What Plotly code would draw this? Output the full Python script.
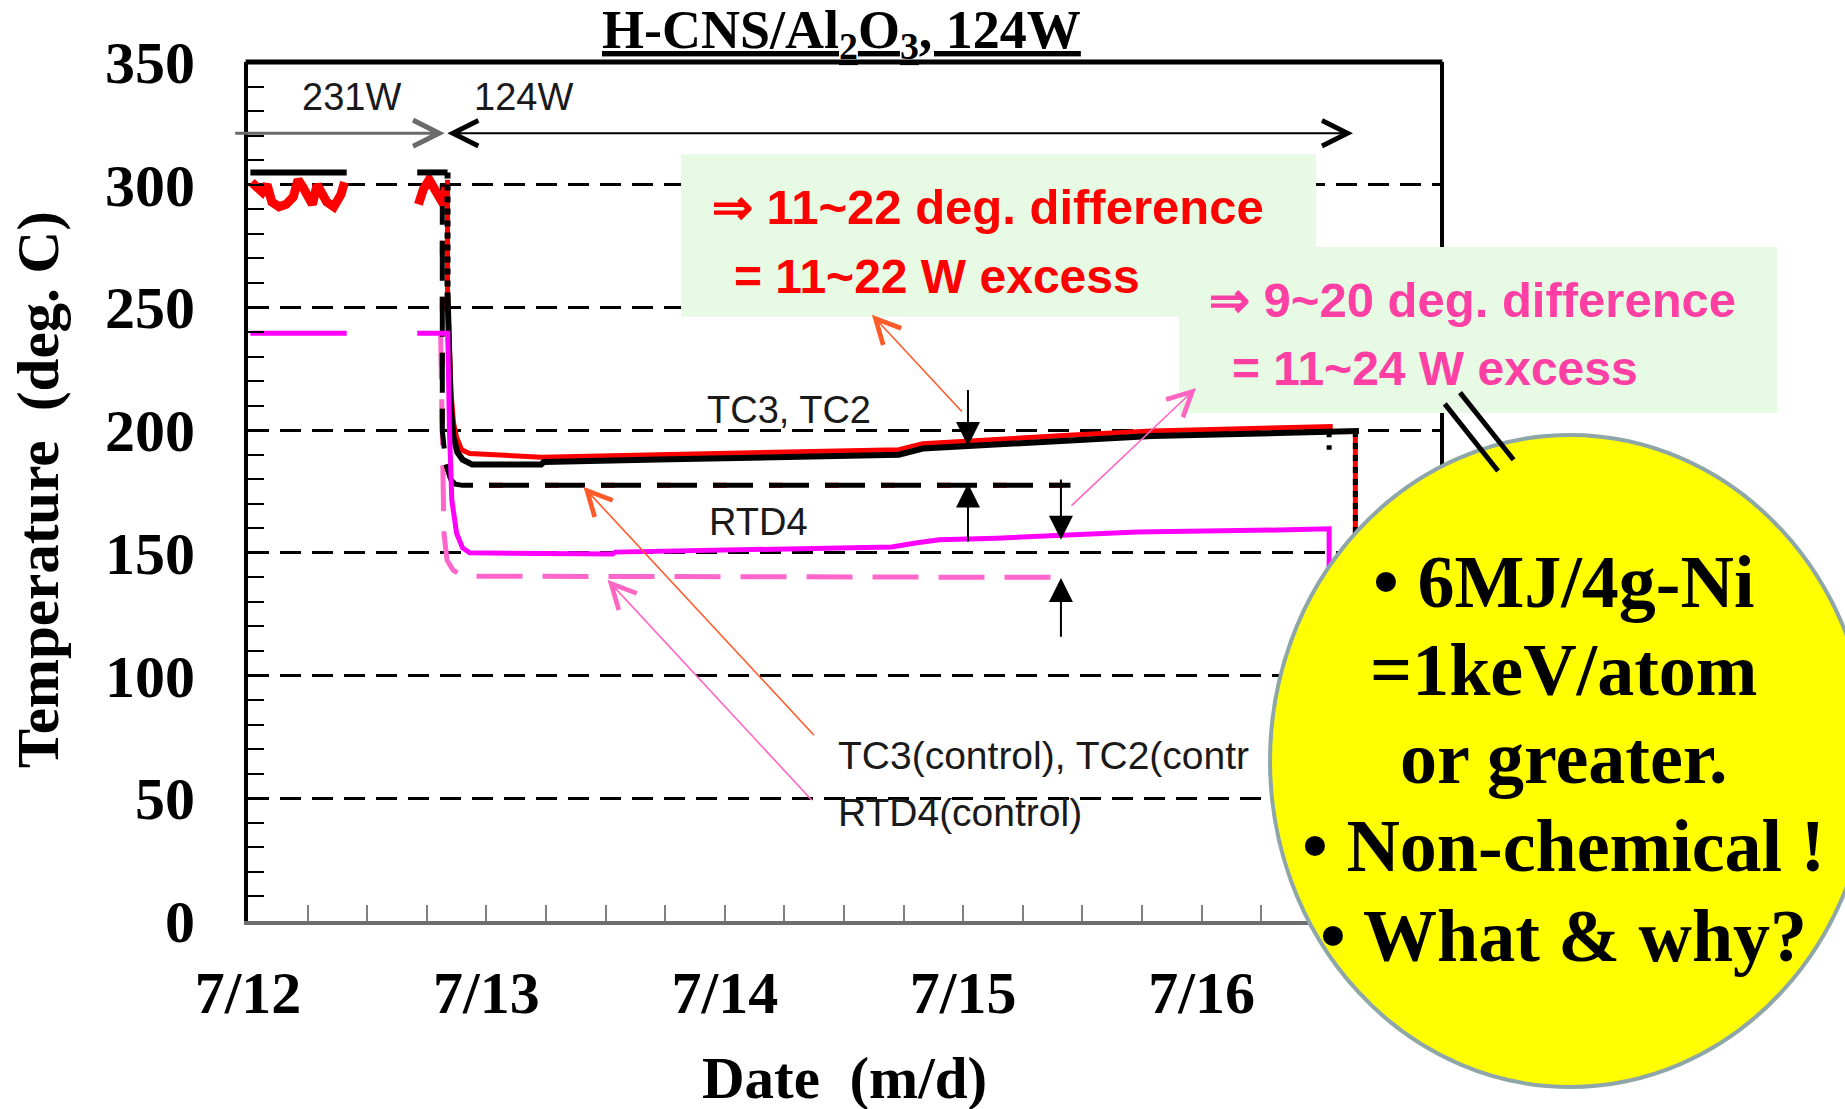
import plotly.graph_objects as go

# ---------------- data (x = days since 7/12 00:00, y = deg. C) ----------------
day_ticks = [0, 1, 2, 3, 4]
day_labels = ["7/12", "7/13", "7/14", "7/15", "7/16"]
temp_ticks = [0, 50, 100, 150, 200, 250, 300, 350]

# TC3, TC2 (black)
tc_black_x = [0.01, 0.414, None, 0.71, 0.837, None, 0.837, 0.85, 0.862, 0.878, 0.90, 0.94, 1.23, 1.24,
              1.72, 2.20, 2.73, 2.83, 3.00, 3.46, 3.79, 4.32, 4.55, 4.66]
tc_black_y = [305, 305, None, 305, 305, None, 256, 210, 197, 191, 188, 186, 186, 187,
              188, 189, 190, 192.5, 193.5, 196, 197.6, 198.8, 199.5, 199.7]
# TC3, TC2 (red) during 231 W (scattered readings)
tc_red231_x = [0.015, 0.04, 0.06, 0.08, 0.10, 0.13, 0.16, 0.19, 0.21, 0.23, 0.25, 0.27, 0.29, 0.31,
               0.33, 0.36, 0.39, 0.405, None, 0.715, 0.735, 0.76, 0.78, 0.80, 0.82, 0.83]
tc_red231_y = [301, 299, 297, 300, 293, 291, 292, 295, 302, 299, 296, 292, 300, 297,
               293, 291, 296, 301, None, 292, 298, 302, 298, 296, 292, 299]
# TC3, TC2 (red) during 124 W
tc_red_x = [0.837, 0.837, 0.852, 0.862, 0.875, 0.896, 0.93, 1.23, 1.72,
            2.20, 2.73, 2.83, 3.00, 3.46, 3.79, 4.32, 4.55]
tc_red_y = [302, 256, 215, 203, 197, 192, 190.5, 189, 190,
            191, 192, 194.5, 195.5, 198, 199.6, 200.8, 201.5]
# dotted transitions (power change / shut-down)
tc_drop_x = [0.837, 0.837]
tc_drop_y = [305, 256]
tc_end_x = [4.645, 4.645]
tc_end_y = [199.7, 150]
tc_stub_x = [4.535, 4.535]
tc_stub_y = [199.5, 192]
# TC3(control), TC2(control)
ctrl_tc_x = [0.815, 0.815, 0.83, 0.85, 0.87, 0.90, 3.45]
ctrl_tc_y = [300, 200, 186, 180, 178, 177.5, 177.5]
# RTD4
rtd_x = [0.01, 0.414, None, 0.71, 0.838, 0.845, 0.855, 0.875, 0.90, 0.93, 1.53, 1.54, 2.00, 2.70,
         2.80, 2.90, 3.14, 3.42, 3.73, 4.32, 4.535, 4.535]
rtd_y = [239.5, 239.5, None, 239.5, 239.5, 200, 171.5, 158, 152, 150, 149.5, 150.3, 151, 152.4,
         154, 155.3, 156, 157.3, 158.5, 159.3, 159.8, 135]
# RTD4(control)
ctrl_rtd_x = [0.808, 0.815, 0.822, 0.835, 0.86, 0.90, 3.45]
ctrl_rtd_y = [239.5, 200, 158, 147, 143, 140.5, 140]

SERIF = "Liberation Serif"
SANS = "Liberation Sans"

fig = go.Figure()


def line(x, y, color, width, dash="solid"):
    fig.add_trace(go.Scatter(x=x, y=y, mode="lines", connectgaps=False, hoverinfo="skip",
                             showlegend=False, line=dict(color=color, width=width, dash=dash)))


line(ctrl_rtd_x, ctrl_rtd_y, "#ff66cc", 5, "46px,20px")
line(ctrl_tc_x, ctrl_tc_y, "#ff0000", 5, "14px,42px")
line(ctrl_tc_x, ctrl_tc_y, "#000000", 5, "40px,16px")
line(tc_red231_x, tc_red231_y, "#ff0000", 9)
line(tc_red_x, tc_red_y, "#ff0000", 5)
line(tc_end_x, tc_end_y, "#ff0000", 5)
line(tc_black_x, tc_black_y, "#000000", 6)
line(tc_drop_x, tc_drop_y, "#000000", 6, "6px,6px")
line(tc_end_x, tc_end_y, "#000000", 5, "6px,6px")
line(tc_stub_x, tc_stub_y, "#000000", 5, "6px,8px")
line(rtd_x, rtd_y, "#ff00ff", 5)

tickfont = dict(family=SERIF, size=60, color="black", weight="bold")

fig.update_layout(
    width=1845, height=1109,
    margin=dict(l=248, r=405, t=62, b=188, pad=0),
    paper_bgcolor="white", plot_bgcolor="white",
    showlegend=False,
    font=dict(family=SERIF, color="black"),
    xaxis=dict(range=[0, 5], tickmode="array", tickvals=day_ticks, ticktext=day_labels,
               ticks="inside", ticklen=16, tickwidth=2, tickcolor="#808080",
               minor=dict(tickmode="linear", tick0=0, dtick=0.25, ticks="inside", ticklen=16,
                          tickwidth=2, tickcolor="#808080", showgrid=False),
               showgrid=False, zeroline=False, showline=True, linecolor="#6e6e6e", linewidth=4,
               tickfont=tickfont, ticklabelstandoff=16, fixedrange=True),
    yaxis=dict(range=[0, 350], tickmode="array", tickvals=temp_ticks,
               ticks="inside", ticklen=16, tickwidth=2, tickcolor="black",
               minor=dict(tickmode="linear", tick0=0, dtick=10, ticks="inside", ticklen=16,
                          tickwidth=2, tickcolor="black", showgrid=False),
               showgrid=True, gridcolor="black", gridwidth=2.5, griddash="21px,11px",
               zeroline=False, showline=True, linecolor="black", linewidth=4, mirror=True,
               tickfont=tickfont, ticklabelstandoff=37, fixedrange=True),
)

# ---------------- frame / boxes / bubble (paper coordinates) ----------------
shapes = [
    dict(type="line", xref="paper", yref="paper", x0=-0.002, x1=1.002, y0=1, y1=1,
         line=dict(color="black", width=5)),
    dict(type="rect", xref="paper", yref="paper", x0=0.3633, x1=0.896, y0=0.7035, y1=0.8925,
         fillcolor="#e6fae4", line=dict(width=0)),
    dict(type="rect", xref="paper", yref="paper", x0=0.781, x1=1.2827, y0=0.5914, y1=0.7846,
         fillcolor="#e6fae4", line=dict(width=0)),
    dict(type="circle", xref="paper", yref="paper", x0=0.8574, x1=1.3607, y0=-0.1932, y1=0.5658,
         fillcolor="#ffff00", line=dict(color="#8ea6a8", width=4)),
    dict(type="line", xref="paper", yref="paper", x0=1.004, y0=0.602, x1=1.0487, y1=0.5239,
         line=dict(color="black", width=5)),
    dict(type="line", xref="paper", yref="paper", x0=1.0168, y0=0.6151, x1=1.0617, y1=0.5369,
         line=dict(color="black", width=5)),
]
for s in shapes:
    s["layer"] = "above"
    fig.add_shape(**s)


def arrow(hx, hy, tx, ty, color, width, head, size, side="end"):
    fig.add_annotation(x=hx, y=hy, ax=tx, ay=ty, xref="x", yref="y", axref="x", ayref="y",
                       text="", showarrow=True, arrowhead=head, arrowsize=size, arrowwidth=width,
                       arrowcolor=color, arrowside=side, startarrowhead=head, startarrowsize=size,
                       standoff=0, startstandoff=0)


# power arrows
arrow(0.825, 321, -0.06, 321, "#6a6a6a", 3, 5, 1.7)
arrow(4.635, 321, 0.83, 321, "#000000", 2, 5, 2.5, side="end+start")
# difference arrows
arrow(3.02, 193.5, 3.02, 217, "black", 2, 2, 2.4)
arrow(3.02, 178.3, 3.02, 154, "black", 2, 2, 2.4)
arrow(3.41, 155.3, 3.41, 180.5, "black", 2, 2, 2.4)
arrow(3.41, 139.8, 3.41, 115.2, "black", 2, 2, 2.4)
# pointer arrows
arrow(1.407, 176.9, 2.38, 75.1, "#ff5a2a", 1.6, 5, 3)
arrow(1.508, 139.0, 2.371, 48.6, "#ff66c4", 1.6, 5, 3)
arrow(2.617, 247.0, 3.0, 207.0, "#ff5a2a", 1.6, 5, 3)
arrow(3.977, 217.2, 3.448, 168.7, "#ff66c4", 1.6, 5, 3)


def label(text, x, y, size, color="#1a1a1a", family=SANS, xanchor="center", xref="x", yref="y",
          weight="normal", angle=0):
    fig.add_annotation(x=x, y=y, xref=xref, yref=yref, text=text, showarrow=False,
                       xanchor=xanchor, yanchor="middle", textangle=angle,
                       font=dict(family=family, size=size, color=color, weight=weight))


label("231W", 0.436, 335.6, 38)
label("124W", 1.157, 335.6, 38)
label("TC3, TC2", 2.27, 208.2, 38)
label("RTD4", 2.14, 162.7, 38)
label("TC3(control), TC2(contr", 2.465, 67.6, 39, xanchor="left")
label("RTD4(control)", 2.465, 44.2, 39, xanchor="left")

# boxed comments
label("⇒ 11~22 deg. difference", 0.3876, 0.8315, 49, color="#ff0000", xanchor="left",
      xref="paper", yref="paper", weight="bold")
label("= 11~22 W excess", 0.406, 0.75, 48, color="#ff0000", xanchor="left",
      xref="paper", yref="paper", weight="bold")
label("⇒ 9~20 deg. difference", 0.8045, 0.7229, 49, color="#ff3fa4", xanchor="left",
      xref="paper", yref="paper", weight="bold")
label("= 11~24 W excess", 0.8238, 0.6432, 48, color="#ff3fa4", xanchor="left",
      xref="paper", yref="paper", weight="bold")

# bubble text
bubble_lines = ["• 6MJ/4g-Ni", "=1keV/atom", "or greater.", "• Non-chemical !", "• What & why?"]
bubble_y = [0.395, 0.2922, 0.1902, 0.0868, -0.0175]
for t, yy in zip(bubble_lines, bubble_y):
    label(t, 1.104, yy, 74, color="black", family=SERIF, xref="paper", yref="paper", weight="bold")

# title and axis titles
label("<u>H-CNS/Al<sub>2</sub>O<sub>3</sub>, 124W</u>", 0.4975, 1.033, 54, color="black",
      family=SERIF, xref="paper", yref="paper", weight="bold")
label("Date\u00a0 (m/d)", 0.5, -0.1822, 59, color="black", family=SERIF,
      xref="paper", yref="paper", weight="bold")
label("Temperature\u00a0 (deg. C)", -0.1766, 0.502, 59, color="black", family=SERIF,
      xref="paper", yref="paper", weight="bold", angle=-90)

fig.write_html("out.html", config={"displayModeBar": False},
               post_script="document.body.style.margin='0px';document.body.style.overflow='hidden';")
